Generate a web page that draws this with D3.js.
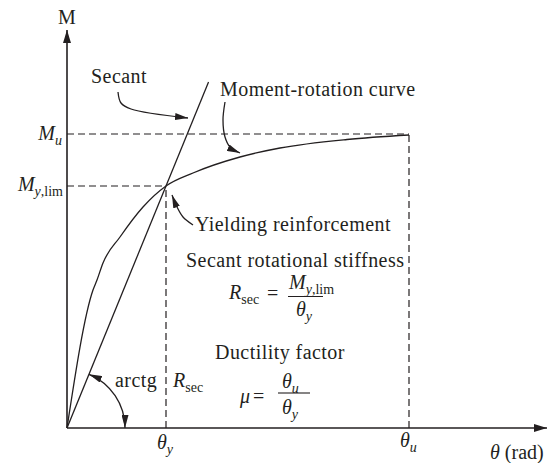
<!DOCTYPE html>
<html>
<head>
<meta charset="utf-8">
<script src="https://cdn.jsdelivr.net/npm/d3@7"></script>
<style>
  html, body { margin: 0; padding: 0; background: #fff; }
  svg { display: block; }
  text { font-family: "Liberation Serif", "Times New Roman", serif; fill: #231f20; font-size: 20px; }
  .plain { letter-spacing: 0.45px; }
</style>
</head>
<body>
<svg id="chart" width="550" height="463"></svg>
<script>
// moment-rotation curve (arbitrary units)
const curveTheta  = [0, 0.26, 0.30, 0.36, 0.53, 0.76, 0.99, 1.26, 1.73, 2.13, 2.80, 3.42];
const curveMoment = [0, 1.38, 1.48, 1.65, 1.91, 2.21, 2.42, 2.55, 2.71, 2.80, 2.885, 2.93];

const THETA_Y = 0.99;
const THETA_U = 3.42;
const M_YLIM = 2.42;
const M_U = 2.94;
const SECANT_TOP = 3.46;   // moment where the secant line stops

const X_MAX = 4.8;
const Y_MAX = 3.98;

const INK = '#231f20';

const svg = d3.select('#chart');
const x = d3.scaleLinear().domain([0, X_MAX]).range([67, 547]);
const y = d3.scaleLinear().domain([0, 4]).range([428, 28]);

// arrow markers
const defs = svg.append('defs');
function marker(id, len, wid, orient) {
  defs.append('marker')
    .attr('id', id)
    .attr('markerUnits', 'userSpaceOnUse')
    .attr('markerWidth', len).attr('markerHeight', wid)
    .attr('refX', len).attr('refY', wid / 2)
    .attr('orient', orient)
    .append('path')
    .attr('d', `M0,0 L${len},${wid / 2} L0,${wid} Z`)
    .attr('fill', INK);
}
marker('axisArrow', 13, 8, 'auto');
marker('noteArrow', 13, 7, 'auto');
marker('noteArrow2', 13, 7, 'auto-start-reverse');

// dashed guides
const guides = [
  [[0, M_U], [THETA_U, M_U]],
  [[THETA_U, 0], [THETA_U, M_U]],
  [[0, M_YLIM], [THETA_Y, M_YLIM]],
  [[THETA_Y, 0], [THETA_Y, M_YLIM]]
];
guides.forEach(g => {
  svg.append('line')
    .attr('x1', x(g[0][0])).attr('y1', y(g[0][1]))
    .attr('x2', x(g[1][0])).attr('y2', y(g[1][1]))
    .attr('stroke', INK).attr('stroke-width', 1.2)
    .attr('stroke-dasharray', '7,4');
});

// axes
svg.append('line')
  .attr('x1', x(0)).attr('y1', y(0)).attr('x2', x(X_MAX)).attr('y2', y(0))
  .attr('stroke', INK).attr('stroke-width', 1.6)
  .attr('marker-end', 'url(#axisArrow)');
svg.append('line')
  .attr('x1', x(0)).attr('y1', y(0)).attr('x2', x(0)).attr('y2', y(Y_MAX))
  .attr('stroke', INK).attr('stroke-width', 1.6)
  .attr('marker-end', 'url(#axisArrow)');

// secant line
const secantSlope = M_YLIM / THETA_Y;
svg.append('line')
  .attr('x1', x(0)).attr('y1', y(0))
  .attr('x2', x(SECANT_TOP / secantSlope)).attr('y2', y(SECANT_TOP))
  .attr('stroke', INK).attr('stroke-width', 1.3);

// moment-rotation curve
const curveData = curveTheta.map((t, i) => [t, curveMoment[i]]);
svg.append('path')
  .datum(curveData)
  .attr('d', d3.line().x(d => x(d[0])).y(d => y(d[1])).curve(d3.curveMonotoneX))
  .attr('fill', 'none').attr('stroke', INK).attr('stroke-width', 1.3);

// curved annotation arrows (data units)
const secantArrow = [[0.51, 3.36], [0.54, 3.25], [0.64, 3.19], [1.21, 3.10]];
const curveArrow = [[1.58, 3.26], [1.56, 3.08], [1.58, 2.91], [1.63, 2.81], [1.73, 2.75]];
const yieldArrow = [[1.26, 2.03], [1.16, 2.11], [1.10, 2.21], [1.05, 2.33]];
const noteLine = d3.line().x(d => x(d[0])).y(d => y(d[1])).curve(d3.curveCatmullRom);
[secantArrow, curveArrow, yieldArrow].forEach(pts => {
  svg.append('path')
    .attr('d', noteLine(pts))
    .attr('fill', 'none').attr('stroke', INK).attr('stroke-width', 1.3)
    .attr('marker-end', 'url(#noteArrow)');
});

// arctg angle arc
const arcR = x(0.58) - x(0);
const p = d3.path();
p.arc(x(0), y(0), arcR, -Math.atan(secantSlope), 0, false);
svg.append('path')
  .attr('d', p.toString())
  .attr('fill', 'none').attr('stroke', INK).attr('stroke-width', 1.3)
  .attr('marker-start', 'url(#noteArrow2)')
  .attr('marker-end', 'url(#noteArrow)');

// text helpers: parts = [text, style] where style: i = italic, s = subscript, si = italic subscript
function mathText(px, py, parts, anchor) {
  const t = svg.append('text').attr('x', px).attr('y', py)
    .attr('text-anchor', anchor || 'start');
  let shifted = false;
  parts.forEach(([str, st]) => {
    const sub = st === 's' || st === 'si';
    const span = t.append('tspan').text(str);
    if (st === 'i' || st === 'si') span.attr('font-style', 'italic');
    if (sub) span.attr('font-size', '14px');
    if (sub && !shifted) { span.attr('dy', 5); shifted = true; }
    if (!sub && shifted) { span.attr('dy', -5); shifted = false; }
  });
  return t;
}

// plain labels
const plainLabels = [
  ['M', 0, 4.04, 'middle'],
  ['Secant', 0.24, 3.45, 'start'],
  ['Moment-rotation curve', 1.53, 3.32, 'start'],
  ['Yielding reinforcement', 1.28, 1.97, 'start'],
  ['Secant rotational stiffness', 1.19, 1.61, 'start'],
  ['Ductility factor', 1.48, 0.69, 'start'],
  ['arctg', 0.48, 0.41, 'start']
];
plainLabels.forEach(([s, tx, ty, a]) => {
  svg.append('text').attr('class', 'plain')
    .attr('x', x(tx)).attr('y', y(ty)).attr('text-anchor', a).text(s);
});

// axis labels
mathText(x(0) - 5, y(M_U) + 6, [['M', 'i'], ['u', 'si']], 'end');
mathText(x(0) - 4, y(M_YLIM) + 5, [['M', 'i'], ['y', 'si'], [',lim', 's']], 'end');
mathText(x(THETA_Y) - 9, 449, [['θ', 'i'], ['y', 'si']]);
mathText(x(THETA_U) - 9, 447, [['θ', 'i'], ['u', 'si']]);
mathText(490, 459, [['θ', 'i'], [' (rad)', '']]);
mathText(x(1.06), y(0.41), [['R', 'i'], ['sec', 's']]);

// R_sec = M_y,lim / θ_y
mathText(229, 299, [['R', 'i'], ['sec', 's']]);
svg.append('text').attr('x', 267).attr('y', 300).text('=');
svg.append('line').attr('x1', 288).attr('x2', 323).attr('y1', 296.5).attr('y2', 296.5)
  .attr('stroke', INK).attr('stroke-width', 1.1);
mathText(289, 289, [['M', 'i'], ['y', 'si'], [',lim', 's']]);
mathText(296, 316, [['θ', 'i'], ['y', 'si']]);

// μ = θ_u / θ_y
mathText(240, 403, [['μ', 'i']]);
svg.append('text').attr('x', 253).attr('y', 403).text('=');
svg.append('line').attr('x1', 278).attr('x2', 310).attr('y1', 393).attr('y2', 393)
  .attr('stroke', INK).attr('stroke-width', 1.1);
mathText(282, 388, [['θ', 'i'], ['u', 'si']]);
mathText(282, 414, [['θ', 'i'], ['y', 'si']]);
</script>
</body>
</html>
